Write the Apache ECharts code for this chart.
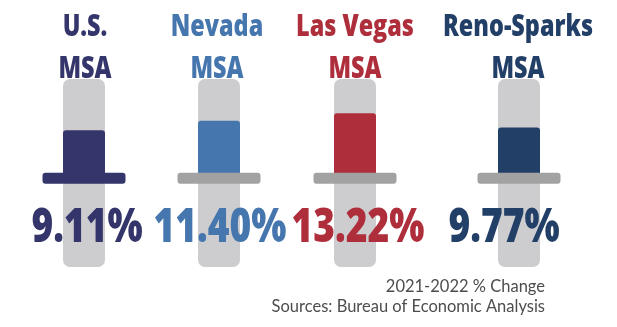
<!DOCTYPE html>
<html><head><meta charset="utf-8">
<script src="https://cdn.jsdelivr.net/npm/echarts@6/dist/echarts.min.js"></script>
<style>html,body{margin:0;padding:0;background:#fff}#c{width:617px;height:327px}</style>
</head><body><div id="c"></div>
<script>
const categories = ['U.S.\nMSA', 'Nevada\nMSA', 'Las Vegas\nMSA', 'Reno-Sparks\nMSA'];
const values = [9.11, 11.40, 13.22, 9.77];
const notes = ['2021-2022 % Change', 'Sources: Bureau of Economic Analysis'];

const colors = ['#34356b', '#4676ae', '#ae2f3b', '#223f67'];
const baseColors = ['#34356b', '#a2a2a2', '#a2a2a2', '#a2a2a2'];
const centers = [84, 219, 355, 519];
const labelShift = [3, 1, 3, -15];
const titleShift = [1, -2, 0, -1];
const FONT = "'Open Sans', sans-serif";

const chart = echarts.init(document.getElementById('c'), null, {renderer: 'canvas'});
const grids = [], xAxes = [], yAxes = [], series = [];
categories.forEach((cat, i) => {
  grids.push({left: centers[i] - 21, width: 42, top: 79, bottom: 60});
  xAxes.push({
    type: 'category', gridIndex: i, data: [cat], show: false
  });
  yAxes.push({type: 'value', gridIndex: i, min: -24, max: 21.5, show: false, splitLine: {show: false}});
  series.push({
    type: 'custom', xAxisIndex: i, yAxisIndex: i,
    data: [[0, values[i]]],
    renderItem: (params, api) => {
      const cs = params.coordSys;
      const x = api.coord([api.value(0), 0])[0];
      const zero = api.coord([api.value(0), 0])[1];
      const top = api.coord([api.value(0), api.value(1)])[1];
      const lines = categories[i].split('\n');
      return {
        type: 'group',
        children: [
          {type: 'rect', shape: {x: x - 21, y: cs.y, width: 42, height: cs.height, r: 7}, style: {fill: '#cdcdcf'}},
          {type: 'rect', shape: {x: x - 21, y: top, width: 42, height: zero + 8 - top, r: [3, 3, 0, 0]}, style: {fill: colors[i]}},
          {type: 'rect', shape: {x: x - 41.5, y: zero + 5, width: 83, height: 11, r: 3}, style: {fill: baseColors[i]}},
          {type: 'text', x: x + labelShift[i], y: zero + 61, scaleX: 0.79,
            style: {text: api.value(1).toFixed(2) + '%', fill: colors[i], font: '800 47px ' + FONT,
              align: 'center', verticalAlign: 'middle'}},
          {type: 'text', x: x + titleShift[i], y: 27, scaleX: 0.78,
            style: {text: lines[0], fill: colors[i], font: '800 30px ' + FONT,
              align: 'center', verticalAlign: 'middle'}},
          {type: 'text', x: x + titleShift[i], y: 69, scaleX: 0.78,
            style: {text: lines[1], fill: colors[i], font: '800 30px ' + FONT,
              align: 'center', verticalAlign: 'middle'}}
        ]
      };
    }
  });
});

chart.setOption({
  animation: false,
  grid: grids, xAxis: xAxes, yAxis: yAxes, series: series,
  title: [
    {text: notes[0], right: 67, top: 273, textStyle: {fontFamily: 'Lato', fontWeight: 'normal', fontSize: 16.5, color: '#4d4d4d'}},
    {text: notes[1], right: 67, top: 293, textStyle: {fontFamily: 'Lato', fontWeight: 'normal', fontSize: 16.5, color: '#4d4d4d'}}
  ]
});
</script></body></html>
